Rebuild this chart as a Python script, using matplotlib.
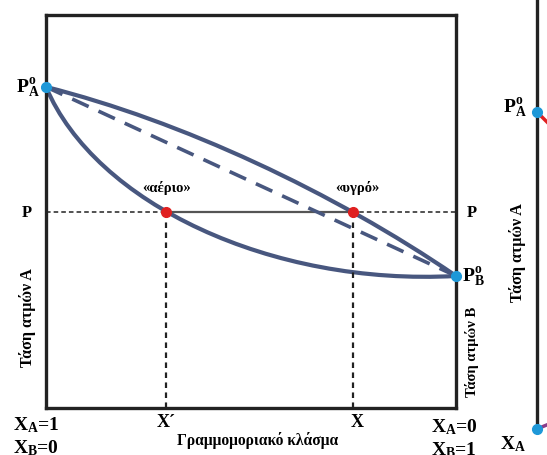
import numpy as np
import matplotlib
matplotlib.use("Agg")
import matplotlib.pyplot as plt
from matplotlib.path import Path
from matplotlib.patches import PathPatch

plt.rcParams['font.family'] = ['Liberation Serif', 'DejaVu Serif']
plt.rcParams['font.weight'] = 'bold'
plt.rcParams['mathtext.fontset'] = 'custom'
plt.rcParams['mathtext.rm'] = 'Liberation Serif:bold'
plt.rcParams['mathtext.it'] = 'Liberation Serif:bold'
plt.rcParams['mathtext.bf'] = 'Liberation Serif:bold'

# x = X_B (0 αριστερά, 1 δεξιά), y = πίεση σε κλίμακα 0-1
# Καμπύλη υγρού (πάνω): σημεία ελέγχου Bezier
liq_ctrl_x = [0.0, 0.33, 0.70, 1.0]
liq_ctrl_y = [0.817, 0.73, 0.55, 0.336]

# Καμπύλη αερίου (κάτω): σημεία ελέγχου Bezier
gas_ctrl_x = [0.0, 0.12, 0.55, 1.0]
gas_ctrl_y = [0.817, 0.52, 0.31, 0.336]

# Ευθεία Raoult
ideal_x = [0.0, 1.0]
ideal_y = [0.817, 0.336]

P = 0.499
x_gas = 0.293   # X'
x_liq = 0.749   # X

blue = '#48577f'

fig = plt.figure(figsize=(5.47, 4.56), dpi=100)
ax = fig.add_axes([46/547, 47/456, 410/547, 393/456])
ax.set_xlim(0, 1)
ax.set_ylim(0, 1)
ax.set_xticks([])
ax.set_yticks([])
for s in ax.spines.values():
    s.set_linewidth(2.4)
    s.set_color('#222222')

# Γραμμή P και κάθετες
ax.plot([0, 1], [P, P], color='#222222', lw=1.1, ls=(0, (3, 2)))
ax.plot([x_gas, x_liq], [P, P], color='#555555', lw=1.6)
ax.plot([x_gas, x_gas], [0, P], color='#222222', lw=1.6, ls=(0, (2.5, 2)))
ax.plot([x_liq, x_liq], [0, P], color='#222222', lw=1.6, ls=(0, (2.5, 2)))

ax.plot(ideal_x, ideal_y, color=blue, lw=2.6, ls=(0, (5, 3)))

codes = [Path.MOVETO, Path.CURVE4, Path.CURVE4, Path.CURVE4]
for cx, cy in [(liq_ctrl_x, liq_ctrl_y), (gas_ctrl_x, gas_ctrl_y)]:
    path = Path(list(zip(cx, cy)), codes)
    ax.add_patch(PathPatch(path, facecolor='none', edgecolor=blue, lw=3, capstyle='round'))

ax.plot([0, 1], [ideal_y[0], ideal_y[1]], 'o', color='#1e98d8', ms=7, clip_on=False, zorder=5)
ax.plot([x_gas, x_liq], [P, P], 'o', color='#e02020', ms=7, clip_on=False, zorder=5)

# Ετικέτες
ax.text(-0.015, 0.817, r'$\mathrm{P}_{\mathrm{A}}^{\mathrm{o}}$', ha='right', va='center', fontsize=14)
ax.text(1.015, 0.336, r'$\mathrm{P}_{\mathrm{B}}^{\mathrm{o}}$', ha='left', va='center', fontsize=14)
ax.text(-0.046, P, 'P', ha='center', va='center', fontsize=12)
ax.text(1.039, P, 'P', ha='center', va='center', fontsize=12)

ax.text(x_gas, P + 0.045, '«αέριο»', ha='center', va='bottom', fontsize=10.5)
ax.text(x_liq + 0.01, P + 0.045, '«υγρό»', ha='center', va='bottom', fontsize=10.5)

ax.text(-0.044, 0.232, 'Τάση ατμών A', rotation=90, ha='center', va='center', fontsize=11.5)
ax.text(1.039, 0.145, 'Τάση ατμών B', rotation=90, ha='center', va='center', fontsize=10.5)

ax.text(-0.08, -0.04, r'$\mathrm{X}_{\mathrm{A}}$=1', ha='left', va='center', fontsize=14)
ax.text(-0.08, -0.1, r'$\mathrm{X}_{\mathrm{B}}$=0', ha='left', va='center', fontsize=14)
ax.text(x_gas, -0.035, 'X´', ha='center', va='center', fontsize=13)
ax.text(x_liq + 0.01, -0.035, 'X', ha='center', va='center', fontsize=13)
ax.text(0.516, -0.08, 'Γραμμομοριακό κλάσμα', ha='center', va='center', fontsize=11.2)
ax.text(0.94, -0.045, r'$\mathrm{X}_{\mathrm{A}}$=0', ha='left', va='center', fontsize=14)
ax.text(0.94, -0.105, r'$\mathrm{X}_{\mathrm{B}}$=1', ha='left', va='center', fontsize=14)

# Κομμάτι του διπλανού διαγράμματος (σε pixel από κάτω)
ax2 = fig.add_axes([537/547, 26/456, 0.3, 430/456])
ax2.set_xlim(0, 164)
ax2.set_ylim(0, 430)
ax2.set_xticks([])
ax2.set_yticks([])
for k in ['top', 'right', 'bottom']:
    ax2.spines[k].set_visible(False)
ax2.spines['left'].set_linewidth(2.4)
ax2.spines['left'].set_color('#222222')
ax2.plot([0, 12], [317, 305], color='#e02020', lw=2.5)
ax2.plot([0, 12], [0, 5], color='#8a3d8a', lw=2.5)
ax2.plot([0, 0], [317, 0], 'o', color='#1e98d8', ms=7, clip_on=False, zorder=5)
ax2.text(-10, 322, r'$\mathrm{P}_{\mathrm{A}}^{\mathrm{o}}$', ha='right', va='center', fontsize=14)
ax2.text(-19, 177, 'Τάση ατμών A', rotation=90, ha='center', va='center', fontsize=11.5)
ax2.text(-37, -14, r'$\mathrm{X}_{\mathrm{A}}$', ha='left', va='center', fontsize=14, clip_on=False)

fig.savefig('out.png', dpi=100)
